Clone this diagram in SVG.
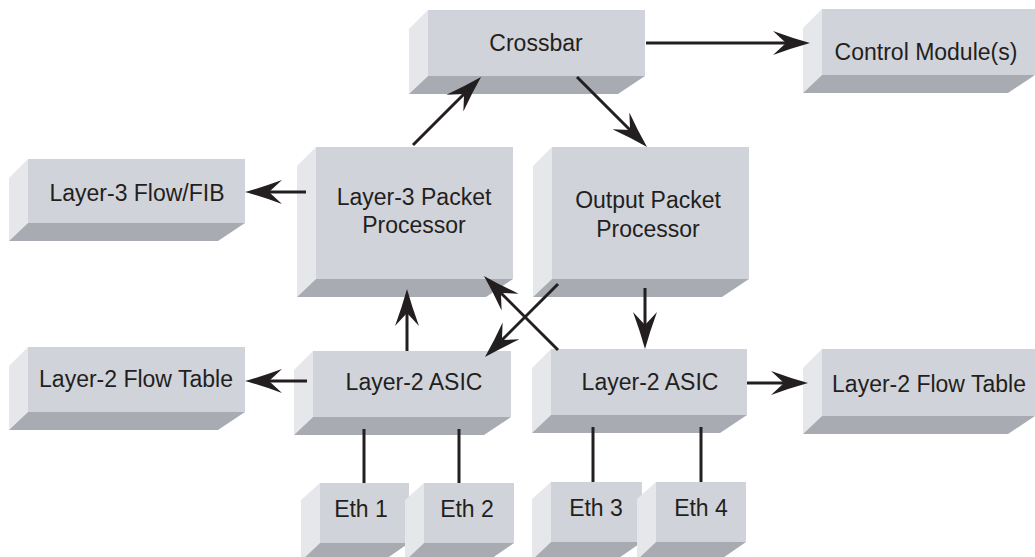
<svg xmlns="http://www.w3.org/2000/svg" width="1035" height="557" viewBox="0 0 1035 557">
<style>
.front{fill:#d1d3da}
.side{fill:#e6e7eb}
.bottom{fill:#a8acb2}
.lbl{font-family:"Liberation Sans",Arial,sans-serif;font-size:23px;fill:#231f20;text-anchor:middle}
.conn{stroke:#231f20;stroke-width:3;fill:none}
</style>
<defs>
<marker id="ah" markerUnits="userSpaceOnUse" viewBox="-38 -12 40 24" markerWidth="40" markerHeight="24" refX="-6" refY="0" orient="auto">
<path d="M0,0 Q-18,-5 -37,-12 L-24,0 L-37,12 Q-18,5 0,0 Z" fill="#231f20"/>
</marker>
</defs>
<rect width="1035" height="557" fill="#ffffff"/>

<g id="crossbar">
<polygon class="side" points="428,10 409,29 409,94 428,76"/>
<polygon class="bottom" points="428,76 645,76 618,94 409,94"/>
<rect class="front" x="428" y="10" width="217" height="66"/>
<text class="lbl" x="536" y="51">Crossbar</text>
</g>
<g id="control">
<polygon class="side" points="822,9 803,28 803,93 822,75"/>
<polygon class="bottom" points="822,75 1035,75 1008,93 803,93"/>
<rect class="front" x="822" y="9" width="213" height="66"/>
<text class="lbl" x="926" y="60">Control Module(s)</text>
</g>
<g id="fib">
<polygon class="side" points="28,159 9,178 9,241 28,223"/>
<polygon class="bottom" points="28,223 245,223 218,241 9,241"/>
<rect class="front" x="28" y="159" width="217" height="64"/>
<text class="lbl" x="137" y="201">Layer-3 Flow/FIB</text>
</g>
<g id="l3pp">
<polygon class="side" points="316,147 297,166 297,297 316,279"/>
<polygon class="bottom" points="316,279 513,279 486,297 297,297"/>
<rect class="front" x="316" y="147" width="197" height="132"/>
<text class="lbl" x="414" y="205">Layer-3 Packet</text>
<text class="lbl" x="414" y="233">Processor</text>
</g>
<g id="opp">
<polygon class="side" points="552,147 533,166 533,297 552,279"/>
<polygon class="bottom" points="552,279 749,279 722,297 533,297"/>
<rect class="front" x="552" y="147" width="197" height="132"/>
<text class="lbl" x="648" y="208">Output Packet</text>
<text class="lbl" x="648" y="237">Processor</text>
</g>
<g id="l2ft-left">
<polygon class="side" points="28,347 9,366 9,430 28,412"/>
<polygon class="bottom" points="28,412 245,412 218,430 9,430"/>
<rect class="front" x="28" y="347" width="217" height="65"/>
<text class="lbl" x="136" y="387">Layer-2 Flow Table</text>
</g>
<g id="asic-left">
<polygon class="side" points="313,351 294,370 294,435 313,417"/>
<polygon class="bottom" points="313,417 511,417 484,435 294,435"/>
<rect class="front" x="313" y="351" width="198" height="66"/>
<text class="lbl" x="414" y="390">Layer-2 ASIC</text>
</g>
<g id="asic-right">
<polygon class="side" points="551,349 532,368 532,433 551,415"/>
<polygon class="bottom" points="551,415 747,415 720,433 532,433"/>
<rect class="front" x="551" y="349" width="196" height="66"/>
<text class="lbl" x="650" y="390">Layer-2 ASIC</text>
</g>
<g id="l2ft-right">
<polygon class="side" points="822,349 803,368 803,434 822,416"/>
<polygon class="bottom" points="822,416 1035,416 1008,434 803,434"/>
<rect class="front" x="822" y="349" width="213" height="67"/>
<text class="lbl" x="929" y="392">Layer-2 Flow Table</text>
</g>
<g id="eth1">
<polygon class="side" points="320,483 301,500 301,561 320,543"/>
<polygon class="bottom" points="320,543 409,543 383,561 301,561"/>
<rect class="front" x="320" y="483" width="89" height="60"/>
<text class="lbl" x="361" y="517">Eth 1</text>
</g>
<g id="eth2">
<polygon class="side" points="424,483 405,500 405,561 424,543"/>
<polygon class="bottom" points="424,543 514,543 488,561 405,561"/>
<rect class="front" x="424" y="483" width="90" height="60"/>
<text class="lbl" x="467" y="517">Eth 2</text>
</g>
<g id="eth3">
<polygon class="side" points="551,482 532,499 532,560 551,542"/>
<polygon class="bottom" points="551,542 642,542 616,560 532,560"/>
<rect class="front" x="551" y="482" width="91" height="60"/>
<text class="lbl" x="596" y="516">Eth 3</text>
</g>
<g id="eth4">
<polygon class="side" points="656,482 637,499 637,560 656,542"/>
<polygon class="bottom" points="656,542 746,542 720,560 637,560"/>
<rect class="front" x="656" y="482" width="90" height="60"/>
<text class="lbl" x="701" y="516">Eth 4</text>
</g>

<g id="connectors">
<line class="conn" x1="646" y1="43" x2="804" y2="43" marker-end="url(#ah)"/>
<line class="conn" x1="413" y1="145" x2="476.8" y2="81.2" marker-end="url(#ah)"/>
<line class="conn" x1="577" y1="77" x2="642.8" y2="142.8" marker-end="url(#ah)"/>
<line class="conn" x1="306" y1="192" x2="251" y2="192" marker-end="url(#ah)"/>
<line class="conn" x1="407" y1="351" x2="407" y2="295" marker-end="url(#ah)"/>
<line class="conn" x1="645" y1="288" x2="645" y2="343" marker-end="url(#ah)"/>
<line class="conn" x1="558" y1="284" x2="489.2" y2="352.8" marker-end="url(#ah)"/>
<line class="conn" x1="558" y1="350" x2="488.2" y2="280.2" marker-end="url(#ah)"/>
<line class="conn" x1="307" y1="381" x2="251" y2="381" marker-end="url(#ah)"/>
<line class="conn" x1="747" y1="383" x2="802" y2="383" marker-end="url(#ah)"/>
<line class="conn" x1="364" y1="429" x2="364" y2="483"/>
<line class="conn" x1="459" y1="429" x2="459" y2="483"/>
<line class="conn" x1="593" y1="427" x2="593" y2="482"/>
<line class="conn" x1="701" y1="427" x2="701" y2="482"/>
</g>
</svg>
